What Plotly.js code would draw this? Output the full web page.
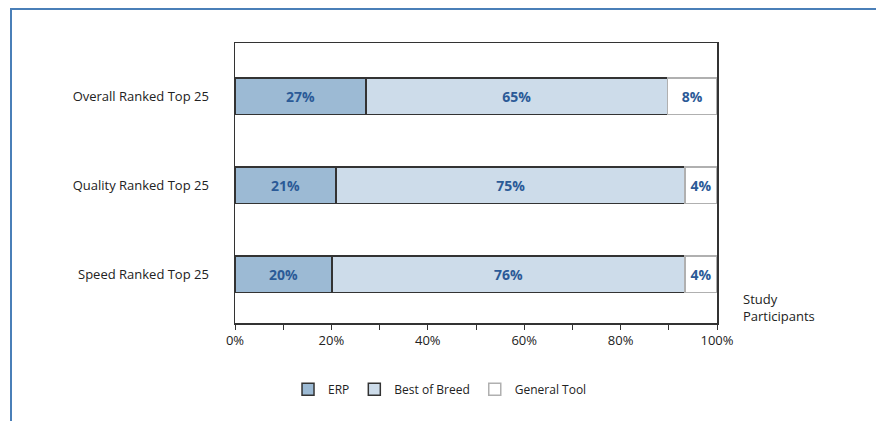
<!DOCTYPE html>
<html>
<head>
<meta charset="utf-8">
<script src="https://cdn.plot.ly/plotly-3.0.1.min.js"></script>
<style>
  html, body { margin:0; padding:0; background:#fff; }
  #wrap { position:relative; width:876px; height:421px; overflow:hidden; }
  #frame { position:absolute; left:10px; top:8px; right:-5px; bottom:-5px;
           border-top:2px solid #4a7fb8; border-left:2px solid #4a7fb8; pointer-events:none; z-index:5; }
  #chart { position:absolute; left:0; top:0; width:876px; height:421px; }
</style>
</head>
<body>
<div id="wrap">
  <div id="chart"></div>
  <div id="frame"></div>
</div>
<script>
const categories = ["Overall Ranked Top 25", "Quality Ranked Top 25", "Speed Ranked Top 25"];
// bar lengths as drawn in the picture (percent of study participants)
const erpValues = [27.2, 21.0, 20.1];
const bestOfBreedValues = [62.5, 72.4, 73.3];
const generalToolValues = [10.3, 6.6, 6.6];
// data labels printed on the bars
const erpLabels = ["27%", "21%", "20%"];
const bestOfBreedLabels = ["65%", "75%", "76%"];
const generalToolLabels = ["8%", "4%", "4%"];
const xTickVals = [0, 20, 40, 60, 80, 100];
const xTickText = ["0%", "20%", "40%", "60%", "80%", "100%"];

const FONT = "Open Sans, Noto Sans, sans-serif";
const labelFont = {family: FONT, size: 14, color: "#2b5a97", weight: 700};

function barTrace(name, vals, labels, fill, lineColor) {
  return {
    type: "bar", orientation: "h", name: name,
    y: categories, x: vals, text: labels, texttemplate: "%{text}",
    textposition: "inside", insidetextanchor: "middle", textangle: 0,
    constraintext: "none",
    textfont: labelFont,
    marker: {color: fill, line: {color: lineColor, width: 1.5}},
    width: 0.41, hoverinfo: "skip"
  };
}

const data = [
  barTrace("ERP", erpValues, erpLabels, "#9cbad4", "#333333"),
  barTrace("Best of Breed", bestOfBreedValues, bestOfBreedLabels, "#cddcea", "#333333"),
  barTrace("General Tool", generalToolValues, generalToolLabels, "#ffffff", "#b0b0b0")
];

const layout = {
  width: 876, height: 421,
  margin: {l: 235, r: 159, t: 43, b: 98},
  paper_bgcolor: "#ffffff", plot_bgcolor: "#ffffff",
  barmode: "stack", showlegend: true,
  font: {family: FONT, size: 13, color: "#222"},
  xaxis: {
    range: [0, 100], tickvals: xTickVals, ticktext: xTickText,
    ticks: "outside", ticklen: 5, tickcolor: "#333", tickwidth: 1,
    minor: {dtick: 10, ticks: "outside", ticklen: 5, tickcolor: "#333", tickwidth: 1},
    showgrid: false, zeroline: false, showline: true, linecolor: "#333", linewidth: 1.5,
    mirror: true, tickfont: {family: FONT, size: 13, color: "#222"}, fixedrange: true
  },
  yaxis: {
    type: "category", categoryorder: "array", categoryarray: categories,
    range: [2.55, -0.6], ticks: "", showgrid: false, zeroline: false,
    showline: true, linecolor: "#333", linewidth: 1.5, mirror: true,
    ticklabelstandoff: 22,
    tickfont: {family: FONT, size: 13, color: "#222"}, fixedrange: true
  },
  legend: {
    orientation: "h", x: 0.11, xanchor: "left", y: -0.185, yanchor: "top",
    font: {family: FONT, size: 12, color: "#222"}, traceorder: "normal",
    itemwidth: 30
  },
  annotations: [{
    xref: "paper", yref: "paper", x: 1.05, y: 0.055, xanchor: "left", yanchor: "middle",
    text: "Study<br>Participants", align: "left", showarrow: false,
    font: {family: FONT, size: 13, color: "#222"}
  }]
};

Plotly.newPlot("chart", data, layout, {displayModeBar: false, staticPlot: true});
</script>
</body>
</html>
